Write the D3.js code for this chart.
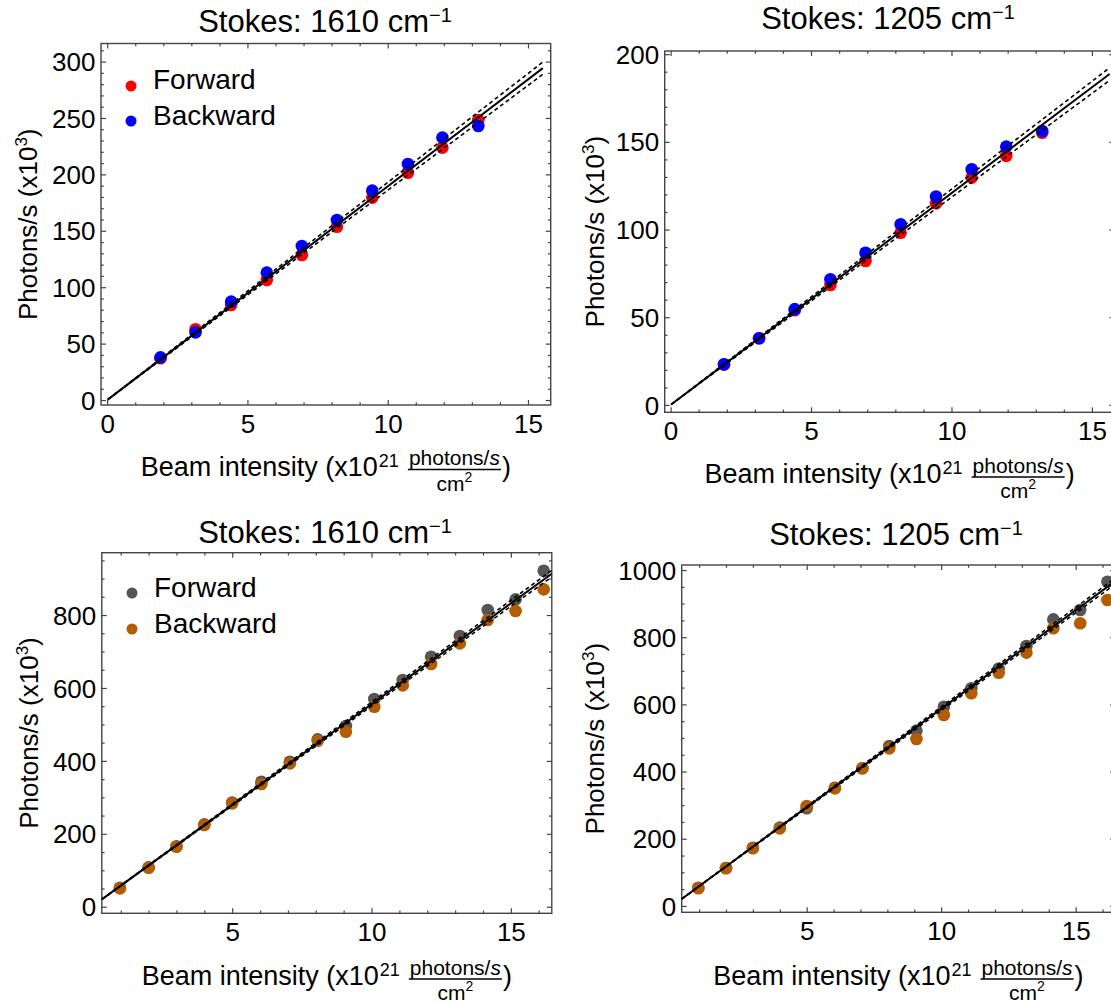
<!DOCTYPE html>
<html>
<head>
<meta charset="utf-8">
<script src="https://cdn.jsdelivr.net/npm/d3@7"></script>
<style>
body { margin: 0; background: #fff; }
text { font-family: "Liberation Sans", Arial, sans-serif; fill: #000; }
</style>
</head>
<body>
<svg id="fig" width="1111" height="1004"></svg>
<script>
// beam intensity (x10^21 photons/s/cm2)
var xTop = [1.90, 3.15, 4.42, 5.69, 6.94, 8.19, 9.45, 10.72, 11.95, 13.23];
var xBottom = [0.97, 2.0, 3.0, 4.0, 5.0, 6.05, 7.07, 8.07, 9.08, 10.1, 11.12, 12.14, 13.17, 14.17, 15.17, 16.18];

// photons/s (x10^3)
var p1Forward  = [37, 62.7, 84.2, 106.4, 128.5, 153.6, 179.4, 201.5, 223.7, 248.2];
var p1Backward = [37.8, 60, 87.2, 112.9, 136.5, 159.6, 185.6, 209.2, 232.6, 242.9];
var p2Forward  = [23, 38, 54, 68.4, 82.1, 98.2, 115, 129.6, 142, 155.2];
var p2Backward = [23.2, 38, 54.6, 71.7, 86.8, 103, 118.8, 134.4, 147.3, 156.2];
var p3Forward  = [52, 108, 166, 226, 286, 343, 397.7, 459, 495.6, 569.7, 621.8, 685.7, 742.4, 813.8, 843, 921.6];
var p3Backward = [50.4, 107, 164.6, 224, 283.6, 336.5, 393.3, 455.3, 480, 548.5, 607, 665.7, 722.4, 786.3, 811, 870.5];
var p4Forward  = [54, 113, 173, 233, 290.7, 352, 410, 476, 521.8, 593, 648, 707, 774, 853, 881, 965];
var p4Backward = [52.7, 112, 171.7, 231, 297.6, 350, 409.8, 469, 497, 568.5, 633, 694.4, 754, 826.5, 841.4, 910.7];

var seriesNames = ["Forward", "Backward"];
var titles = ["Stokes: 1610 cm", "Stokes: 1205 cm", "Stokes: 1610 cm", "Stokes: 1205 cm"];

// linear fits: y = a + b*x, dashed band b +/- db
var fitSlope = [18.94, 12.07, 55.3, 58.7];
var fitIntercept = [0, 0, 2.6, 0];
var fitBand = [0.35, 0.23, 0.55, 0.55];

var xTicksTop = [0, 5, 10, 15];
var xTicksBottom = [5, 10, 15];
var yTicks1 = [0, 50, 100, 150, 200, 250, 300];
var yTicks2 = [0, 50, 100, 150, 200];
var yTicks3 = [0, 200, 400, 600, 800];
var yTicks4 = [0, 200, 400, 600, 800, 1000];

var topColors = ["#ff0000", "#0000ff"];
var bottomColors = ["#555555", "#b35c00"];

var panels = [
  {L: 101, R: 550.7, T: 43.5, B: 405, xd: [-0.22, 15.81], yd: [-4.4, 316],
   xt: xTicksTop, yt: yTicks1, ymin: 10, xs: xTop, ys: [p1Forward, p1Backward], colors: topColors,
   titleX: 325, titleY: 31.7, ylabX: 37, xlabY: 475.5, fitX: [0.02, 15.53],
   legend: {x: 131, dy: [86, 121], tx: 153, ty: [88.5, 124.5]}},
  {L: 664.7, R: 1114.4, T: 51, B: 412.3, xd: [-0.21, 15.8], yd: [-4.2, 201.8],
   xt: xTicksTop, yt: yTicks2, ymin: 10, xs: xTop, ys: [p2Forward, p2Backward], colors: topColors,
   titleX: 888, titleY: 29, ylabX: 604, xlabY: 483, fitX: [0.02, 15.63]},
  {L: 101.8, R: 551.8, T: 552.7, B: 913.3, xd: [0.32, 16.47], yd: [-18, 971],
   xt: xTicksBottom, yt: yTicks3, ymin: 50, xs: xBottom, ys: [p3Forward, p3Backward], colors: bottomColors,
   titleX: 325, titleY: 542.7, ylabX: 37.5, xlabY: 985, fitX: [0.32, 16.47],
   legend: {x: 132, dy: [593, 629], tx: 154, ty: [597, 633]}},
  {L: 681.7, R: 1115.2, T: 565, B: 912.3, xd: [0.353, 16.47], yd: [-19, 1015],
   xt: xTicksBottom, yt: yTicks4, ymin: 50, xs: xBottom, ys: [p4Forward, p4Backward], colors: bottomColors,
   titleX: 896, titleY: 545, ylabX: 604, xlabY: 985, fitX: [0.353, 16.47]}
];

var svg = d3.select("#fig");
var frameColor = "#444";

panels.forEach(function(p, i) {
  var x = d3.scaleLinear().domain(p.xd).range([p.L, p.R]);
  var y = d3.scaleLinear().domain(p.yd).range([p.B, p.T]);
  var g = svg.append("g");

  var xmin = d3.range(Math.ceil(p.xd[0]), Math.floor(p.xd[1]) + 1).filter(function(v) { return p.xt.indexOf(v) < 0; });
  var ymin = d3.range(0, p.yd[1], p.ymin).filter(function(v) { return p.yt.indexOf(v) < 0; });

  function axis(gen, scale, vals, size, pos, labels) {
    var a = gen(scale).tickValues(vals).tickSize(-size).tickPadding(labels ? (pos[2] || 9.5) : 0);
    a.tickFormat(labels ? d3.format("d") : "");
    var ga = g.append("g").attr("transform", "translate(" + pos[0] + "," + pos[1] + ")").call(a);
    ga.select(".domain").remove();
    ga.selectAll("line").attr("stroke", frameColor).attr("stroke-width", 1.2);
    ga.attr("font-size", 26).attr("font-family", null);
    return ga;
  }
  // bottom / top
  axis(d3.axisBottom, x, p.xt, 5, [0, p.B], true);
  axis(d3.axisBottom, x, xmin, 2.8, [0, p.B], false);
  axis(d3.axisTop, x, p.xt, 5, [0, p.T], false);
  axis(d3.axisTop, x, xmin, 2.8, [0, p.T], false);
  // left / right
  var gl = axis(d3.axisLeft, y, p.yt, 5, [p.L, 0, 5.5], true);
  axis(d3.axisLeft, y, ymin, 2.8, [p.L, 0], false);
  axis(d3.axisRight, y, p.yt, 5, [p.R, 0], false);
  axis(d3.axisRight, y, ymin, 2.8, [p.R, 0], false);
  gl.selectAll("text").attr("dy", "0.35em");

  g.append("rect").attr("x", p.L).attr("y", p.T).attr("width", p.R - p.L).attr("height", p.B - p.T)
    .attr("fill", "none").attr("stroke", frameColor).attr("stroke-width", 1.4);

  // points: forward first, backward on top
  p.ys.forEach(function(vals, s) {
    g.selectAll(null).data(vals).enter().append("circle")
      .attr("cx", function(d, k) { return x(p.xs[k]); })
      .attr("cy", function(d) { return y(d); })
      .attr("r", 6.3)
      .attr("fill", p.colors[s]);
  });

  // fit and confidence band
  var line = d3.line().x(function(d) { return x(d[0]); }).y(function(d) { return y(d[1]); });
  [[0, "none", 2], [1, "4,3", 1.6], [-1, "4,3", 1.6]].forEach(function(f) {
    var b = fitSlope[i] + f[0] * fitBand[i];
    var pts = p.fitX.map(function(v) { return [v, fitIntercept[i] + b * v]; });
    g.append("path").attr("d", line(pts)).attr("fill", "none")
      .attr("stroke", "#000").attr("stroke-width", f[2]).attr("stroke-dasharray", f[1]);
  });

  // title
  var tt = g.append("text").attr("x", p.titleX).attr("y", p.titleY).attr("text-anchor", "middle").attr("font-size", 31);
  tt.append("tspan").text(titles[i]);
  tt.append("tspan").attr("font-size", 20).attr("dy", -10).text("\u22121");

  // y label
  var yl = g.append("text").attr("text-anchor", "middle").attr("font-size", 26)
    .attr("transform", "translate(" + p.ylabX + "," + ((p.T + p.B) / 2) + ") rotate(-90)");
  yl.append("tspan").text("Photons/s (x10");
  yl.append("tspan").attr("font-size", 17).attr("dy", -10).text("3");
  yl.append("tspan").attr("dy", 10).text(")");

  // x label with fraction
  var xl = g.append("g");
  var base = p.xlabY;
  var t1 = xl.append("text").attr("x", 0).attr("y", base).attr("font-size", 27).text("Beam intensity (x10");
  var w1 = t1.node().getComputedTextLength();
  var t2 = xl.append("text").attr("x", w1 + 1).attr("y", base - 9).attr("font-size", 18).text("21");
  var fx0 = w1 + 1 + t2.node().getComputedTextLength() + 9;
  var num = xl.append("text").attr("y", base - 10.5).attr("font-size", 21).attr("text-anchor", "middle");
  num.append("tspan").text("photons/");
  num.append("tspan").attr("font-style", "italic").text("s");
  var fw = num.node().getComputedTextLength() + 2;
  num.attr("x", fx0 + fw / 2);
  xl.append("line").attr("x1", fx0).attr("x2", fx0 + fw).attr("y1", base - 6).attr("y2", base - 6)
    .attr("stroke", "#000").attr("stroke-width", 1.4);
  var den = xl.append("text").attr("x", fx0 + fw / 2).attr("y", base + 15).attr("font-size", 21).attr("text-anchor", "middle");
  den.append("tspan").text("cm");
  den.append("tspan").attr("font-size", 14).attr("dy", -9).text("2");
  var tp = xl.append("text").attr("x", fx0 + fw + 1).attr("y", base).attr("font-size", 27).text(")");
  var total = fx0 + fw + 1 + tp.node().getComputedTextLength();
  xl.attr("transform", "translate(" + ((p.L + p.R) / 2 - total / 2) + ",0)");

  // legend
  if (p.legend) {
    seriesNames.forEach(function(name, s) {
      g.append("circle").attr("cx", p.legend.x).attr("cy", p.legend.dy[s]).attr("r", 5.5).attr("fill", p.colors[s]);
      g.append("text").attr("x", p.legend.tx).attr("y", p.legend.ty[s]).attr("font-size", 28).text(name);
    });
  }
});
</script>
</body>
</html>
